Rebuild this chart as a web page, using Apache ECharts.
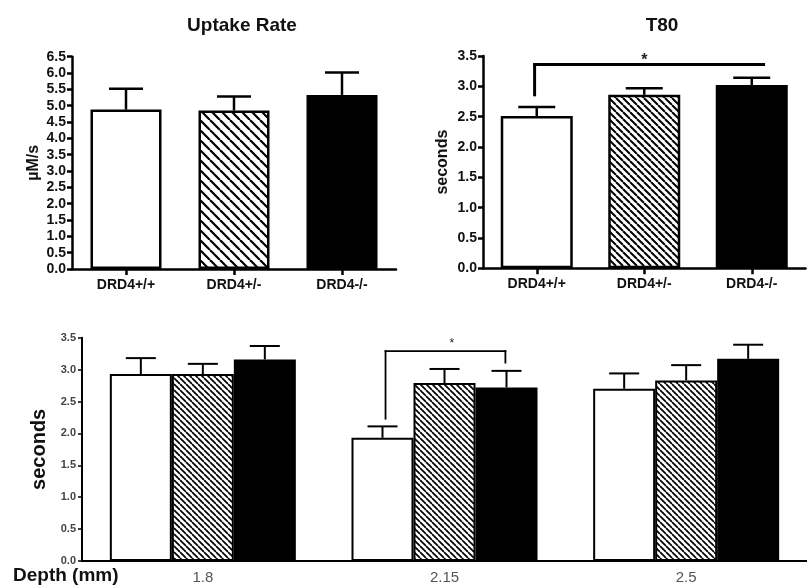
<!DOCTYPE html>
<html>
<head>
<meta charset="utf-8">
<script src="https://cdn.jsdelivr.net/npm/echarts@6/dist/echarts.min.js"></script>
<style>html,body{margin:0;padding:0;background:#fff}#c{width:807px;height:588px}</style>
</head>
<body>
<div id="c"></div>
<script>
// ---------- data ----------
var genotypes = ['DRD4+/+', 'DRD4+/-', 'DRD4-/-'];
var uptakeMean = [4.88, 4.85, 5.33];
var uptakeSem  = [0.64, 0.43, 0.69];
var t80Mean = [2.51, 2.86, 3.02];
var t80Sem  = [0.15, 0.11, 0.12];
var depthCats = ['1.8', '2.15', '2.5'];
var depthWT   = [2.93, 1.93, 2.70];
var semWT     = [0.25, 0.18, 0.24];
var depthHet  = [2.93, 2.79, 2.83];
var semHet    = [0.16, 0.22, 0.24];
var depthKO   = [3.16, 2.72, 3.17];
var semKO     = [0.21, 0.26, 0.22];
var uptakeTicks = [0, 6.5, 0.5];   // min, max, interval
var secondsTicks = [0, 3.5, 0.5];
// significance brackets (x in category units from first category, y in seconds)
var t80BracketX = [-0.02, -0.02, 2.11];
var t80BracketY = [2.86, 3.36, 3.36];
var t80Star = [1.0, 3.43];
var depthBracketX = [0.756, 0.756, 1.252, 1.252];
var depthBracketY = [2.23, 3.29, 3.29, 3.11];
var depthStar = [1.03, 3.40];

// ---------- styles ----------
var FONT = '"Liberation Sans", Arial, sans-serif';
function hatch(s, lw) {
  var c = document.createElement('canvas');
  c.width = s; c.height = s;
  var g = c.getContext('2d');
  g.fillStyle = '#fff'; g.fillRect(0, 0, s, s);
  g.strokeStyle = '#000'; g.lineWidth = lw;
  [-s, 0, s].forEach(function (o) {
    g.beginPath(); g.moveTo(o, 0); g.lineTo(o + s, s); g.stroke();
  });
  return c;
}
var hatchA = {image: hatch(10, 2.2), repeat: 'repeat'};
var hatchB = {image: hatch(7, 2), repeat: 'repeat'};
var hatchC = {image: hatch(6, 1.7), repeat: 'repeat'};

function styled(vals, fills, bw) {
  return vals.map(function (v, i) {
    return {value: v, itemStyle: {color: fills[i], borderColor: '#000', borderWidth: bw}};
  });
}
function errData(mean, sem) {
  return mean.map(function (m, i) { return [i, m, +(m + sem[i]).toFixed(3)]; });
}
function errRender(offsetPx, capW, lw) {
  return function (params, api) {
    var i = api.value(0), m = api.value(1), u = api.value(2);
    var p0 = api.coord([i, m]), p1 = api.coord([i, u]);
    var x = p0[0] + offsetPx;
    return {type: 'group', children: [
      {type: 'line', shape: {x1: x, y1: p0[1], x2: x, y2: p1[1]}, style: {stroke: '#000', lineWidth: lw}},
      {type: 'line', shape: {x1: x - capW / 2, y1: p1[1], x2: x + capW / 2, y2: p1[1]}, style: {stroke: '#000', lineWidth: lw}}
    ]};
  };
}
function bracketRender(xs, ys, lw, starFont) {
  return function (params, api) {
    var band = api.size([1, 0])[0];
    function px(cx, vy) {
      var p = api.coord([0, vy]);
      return [p[0] + cx * band, p[1]];
    }
    var pts = xs.map(function (x, k) { return px(x, ys[k]); });
    var sp = px(api.value(0), api.value(1));
    var kids = [];
    for (var k = 0; k < pts.length - 1; k++) {
      kids.push({type: 'line', shape: {x1: pts[k][0], y1: pts[k][1], x2: pts[k + 1][0], y2: pts[k + 1][1]},
        style: {stroke: '#000', lineWidth: lw, lineCap: 'square'}});
    }
    kids.push({type: 'text', x: sp[0], y: sp[1],
      style: {text: '*', align: 'center', verticalAlign: 'middle', font: starFont, fill: '#222'}});
    return {type: 'group', children: kids};
  };
}

function yAxisTop(gi, ticks, name, nameGap) {
  return {
    type: 'value', gridIndex: gi, min: ticks[0], max: ticks[1], interval: ticks[2],
    name: name, nameLocation: 'middle', nameGap: nameGap,
    nameTextStyle: {fontFamily: FONT, fontWeight: 'bold', fontSize: 16, color: '#111'},
    axisLine: {show: true, onZero: false, lineStyle: {color: '#000', width: 2.5}},
    axisTick: {show: true, length: 5, lineStyle: {color: '#000', width: 2.5}},
    axisLabel: {margin: 6, fontFamily: FONT, fontWeight: 'bold', fontSize: 14, color: '#111',
      formatter: function (v) { return v.toFixed(1); }},
    splitLine: {show: false}
  };
}
function xAxisTop(gi) {
  return {
    type: 'category', gridIndex: gi, data: genotypes,
    axisLine: {lineStyle: {color: '#000', width: 2.5}},
    axisTick: {show: true, alignWithLabel: true, length: 6, lineStyle: {color: '#000', width: 2.5}},
    axisLabel: {margin: 9, fontFamily: FONT, fontWeight: 'bold', fontSize: 14, color: '#111'}
  };
}

var option = {
  animation: false,
  backgroundColor: '#fff',
  title: [
    {text: 'Uptake Rate', left: 237, top: 11, textAlign: 'center',
     textStyle: {fontFamily: FONT, fontWeight: 'bold', fontSize: 19, color: '#111'}},
    {text: 'T80', left: 657, top: 11, textAlign: 'center',
     textStyle: {fontFamily: FONT, fontWeight: 'bold', fontSize: 19, color: '#111'}}
  ],
  graphic: [
    {type: 'text', left: 13, top: 566,
     style: {text: 'Depth (mm)', font: 'bold 19px ' + FONT, fill: '#111'}}
  ],
  grid: [
    {left: 72, top: 56.7, width: 324, height: 212.3},
    {left: 483, top: 56, width: 322.5, height: 212.3},
    {left: 82, top: 337.7, width: 738, height: 223.3}
  ],
  xAxis: [
    xAxisTop(0),
    xAxisTop(1),
    {type: 'category', gridIndex: 2, data: depthCats,
     axisLine: {lineStyle: {color: '#000', width: 2}},
     axisTick: {show: false},
     axisLabel: {margin: 9, fontFamily: FONT, fontSize: 15, color: '#555'}}
  ],
  yAxis: [
    yAxisTop(0, uptakeTicks, '\u00b5M/s', 30),
    yAxisTop(1, secondsTicks, 'seconds', 32),
    {type: 'value', gridIndex: 2, min: secondsTicks[0], max: secondsTicks[1], interval: secondsTicks[2],
     name: 'seconds', nameLocation: 'middle', nameGap: 25,
     nameTextStyle: {fontFamily: FONT, fontWeight: 'bold', fontSize: 20, color: '#111'},
     axisLine: {show: true, onZero: false, lineStyle: {color: '#000', width: 2}},
     axisTick: {show: true, length: 4, lineStyle: {color: '#000', width: 1.5}},
     axisLabel: {margin: 6, fontFamily: FONT, fontWeight: 'bold', fontSize: 11, color: '#444',
       formatter: function (v) { return v.toFixed(1); }},
     splitLine: {show: false}}
  ],
  series: [
    {type: 'bar', xAxisIndex: 0, yAxisIndex: 0, barWidth: 71, z: 2,
     data: styled(uptakeMean, ['#fff', hatchA, '#000'], 2.5)},
    {type: 'custom', xAxisIndex: 0, yAxisIndex: 0, z: 3, renderItem: errRender(0, 34, 2.5),
     encode: {x: 0, y: [1, 2]}, data: errData(uptakeMean, uptakeSem)},
    {type: 'bar', xAxisIndex: 1, yAxisIndex: 1, barWidth: 72, z: 2,
     data: styled(t80Mean, ['#fff', hatchB, '#000'], 2.5)},
    {type: 'custom', xAxisIndex: 1, yAxisIndex: 1, z: 3, renderItem: errRender(0, 37, 2.5),
     encode: {x: 0, y: [1, 2]}, data: errData(t80Mean, t80Sem)},
    {type: 'custom', xAxisIndex: 1, yAxisIndex: 1, z: 4, clip: false,
     renderItem: bracketRender(t80BracketX, t80BracketY, 3, 'bold 16px ' + FONT),
     encode: {x: 0, y: 1}, data: [t80Star]},
    {type: 'bar', xAxisIndex: 2, yAxisIndex: 2, barWidth: 62, barGap: '0%', z: 2,
     itemStyle: {color: '#fff', borderColor: '#000', borderWidth: 2}, data: depthWT},
    {type: 'bar', xAxisIndex: 2, yAxisIndex: 2, barWidth: 62, barGap: '0%', z: 2,
     itemStyle: {color: hatchC, borderColor: '#000', borderWidth: 2}, data: depthHet},
    {type: 'bar', xAxisIndex: 2, yAxisIndex: 2, barWidth: 62, barGap: '0%', z: 2,
     itemStyle: {color: '#000', borderColor: '#000', borderWidth: 2}, data: depthKO},
    {type: 'custom', xAxisIndex: 2, yAxisIndex: 2, z: 3, renderItem: errRender(-62, 30, 2),
     encode: {x: 0, y: [1, 2]}, data: errData(depthWT, semWT)},
    {type: 'custom', xAxisIndex: 2, yAxisIndex: 2, z: 3, renderItem: errRender(0, 30, 2),
     encode: {x: 0, y: [1, 2]}, data: errData(depthHet, semHet)},
    {type: 'custom', xAxisIndex: 2, yAxisIndex: 2, z: 3, renderItem: errRender(62, 30, 2),
     encode: {x: 0, y: [1, 2]}, data: errData(depthKO, semKO)},
    {type: 'custom', xAxisIndex: 2, yAxisIndex: 2, z: 4, clip: false,
     renderItem: bracketRender(depthBracketX, depthBracketY, 1.8, '12px ' + FONT),
     encode: {x: 0, y: 1}, data: [depthStar]}
  ]
};
var chart = echarts.init(document.getElementById('c'), null, {renderer: 'canvas'});
chart.setOption(option);
</script>
</body>
</html>
